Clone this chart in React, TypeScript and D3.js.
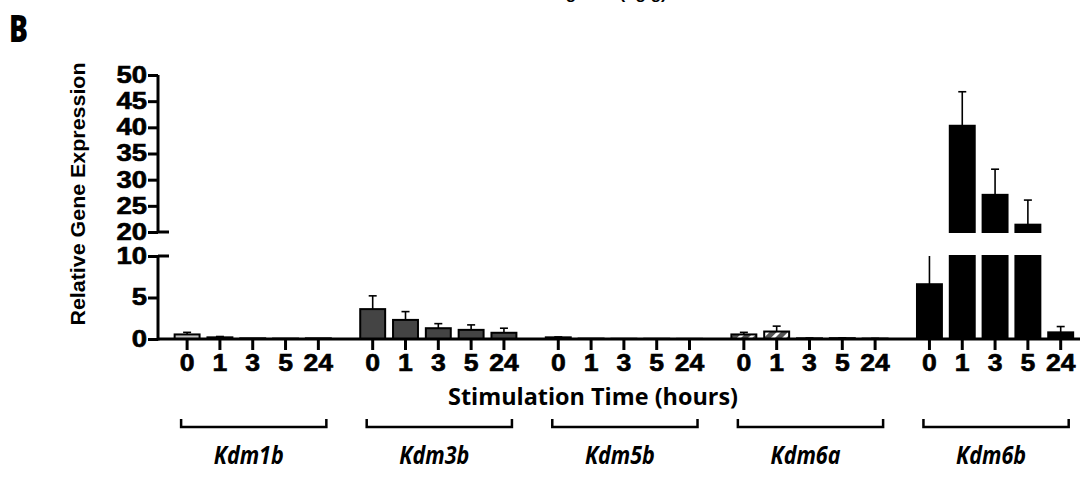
// @ts-nocheck
import React, { useRef, useEffect } from "react";
import * as d3 from "d3";

// genes and time points (hours)
const genes = ["Kdm1b", "Kdm3b", "Kdm5b", "Kdm6a", "Kdm6b"];
const times = ["0", "1", "3", "5", "24"];

// mean relative expression per gene, in the order of `times`
const kdm1bMean = [0.55, 0.2, 0.08, 0.05, 0.08];
const kdm3bMean = [3.6, 2.3, 1.3, 1.1, 0.75];
const kdm5bMean = [0.2, 0.05, 0.03, 0.03, 0.02];
const kdm6aMean = [0.55, 0.9, 0.08, 0.1, 0.05];
const kdm6bMean = [6.6, 40.3, 27.1, 21.4, 0.8];

// error (SEM) per gene
const kdm1bErr = [0.25, 0.1, 0, 0, 0];
const kdm3bErr = [1.6, 1.0, 0.55, 0.6, 0.55];
const kdm5bErr = [0.05, 0, 0, 0, 0];
const kdm6aErr = [0.25, 0.65, 0.04, 0.04, 0.02];
const kdm6bErr = [3.5, 6.5, 4.9, 4.7, 0.7];

const lowTicks = [0, 5, 10];
const highTicks = [20, 25, 30, 35, 40, 45, 50];

const means = [kdm1bMean, kdm3bMean, kdm5bMean, kdm6aMean, kdm6bMean];
const errs = [kdm1bErr, kdm3bErr, kdm5bErr, kdm6aErr, kdm6bErr];
const fills = ["#c4c4c4", "#444444", "#ffffff", "url(#hatch)", "#000000"];

const BrokenBarChart = ({ width = 1092, height = 478 }) => {
  const svgRef = useRef(null);

  useEffect(() => {
    const svg = d3.select(svgRef.current);
    svg.selectAll("*").remove();

    const axisX = 158,
      axisEnd = 1080,
      baseY = 339;

    const gx = d3
      .scaleBand()
      .domain(genes)
      .range([170.7, 1077.1])
      .paddingInner(0.116)
      .paddingOuter(0);

    const tx = d3
      .scaleBand()
      .domain(times)
      .range([0, gx.bandwidth()])
      .paddingInner(0.24)
      .paddingOuter(0.12);

    const yLow = d3.scaleLinear().domain([0, 10]).range([baseY, 256]);
    const yHigh = d3.scaleLinear().domain([20, 50]).range([232, 75]);

    const rows = genes.flatMap((g, gi) =>
      times.map((t, ti) => ({
        gene: g,
        time: t,
        value: means[gi][ti],
        err: errs[gi][ti],
        fill: fills[gi],
      }))
    );

    svg
      .attr("width", width)
      .attr("height", height)
      .attr("viewBox", [0, 0, width, height])
      .style("position", "absolute")
      .style("top", 0)
      .style("left", 0)
      .style("background", "#fff");

    // hatch pattern for Kdm6a
    const pat = svg
      .append("defs")
      .append("pattern")
      .attr("id", "hatch")
      .attr("patternUnits", "userSpaceOnUse")
      .attr("width", 8)
      .attr("height", 8)
      .attr("patternTransform", "rotate(45)");
    pat.append("rect").attr("width", 8).attr("height", 8).attr("fill", "#555");
    pat.append("rect").attr("width", 3).attr("height", 8).attr("fill", "#fff");

    // panel title, cut off at the top edge as in the source figure
    svg
      .append("text")
      .attr("x", 595)
      .attr("y", -1)
      .attr("text-anchor", "middle")
      .attr("font-family", "Liberation Sans, Arial")
      .attr("font-weight", "bold")
      .attr("font-size", 17)
      .text("Kdm genes (ng/g)");

    svg
      .append("text")
      .attr("x", 9)
      .attr("y", 42)
      .attr("font-family", "Open Sans, sans-serif")
      .attr("font-weight", 800)
      .attr("font-size", 37)
      .attr("textLength", 19)
      .attr("lengthAdjust", "spacingAndGlyphs")
      .text("B");

    const xb = (d) => gx(d.gene) + tx(d.time);

    // bars
    const bars = svg.append("g").attr("stroke", "#000").attr("stroke-width", 2);
    rows.forEach((d) => {
      const lowTop = Math.min(d.value, 10);
      bars
        .append("rect")
        .attr("x", xb(d))
        .attr("y", yLow(lowTop))
        .attr("width", tx.bandwidth())
        .attr("height", Math.max(0, yLow(0) - yLow(lowTop)))
        .attr("fill", d.fill);
      if (d.value > 20) {
        bars
          .append("rect")
          .attr("x", xb(d))
          .attr("y", yHigh(d.value))
          .attr("width", tx.bandwidth())
          .attr("height", yHigh(20) - yHigh(d.value))
          .attr("fill", d.fill);
      }
    });

    // error bars (upper only)
    const eb = svg.append("g").attr("stroke", "#000").attr("stroke-width", 1.6);
    rows
      .filter((d) => d.err > 0)
      .forEach((d) => {
        const cx = xb(d) + tx.bandwidth() / 2;
        const top = d.value + d.err;
        const y = d.value > 20 ? yHigh : yLow;
        const clipped = d.value <= 10 && top > 10;
        const yTop = clipped ? yLow(10) : y(top);
        eb.append("line")
          .attr("x1", cx)
          .attr("x2", cx)
          .attr("y1", y(d.value))
          .attr("y2", yTop);
        if (!clipped) {
          eb.append("line")
            .attr("x1", cx - 4)
            .attr("x2", cx + 4)
            .attr("y1", yTop)
            .attr("y2", yTop);
        }
      });

    const tickFont = (g, per) =>
      g
        .selectAll("text")
        .attr("font-family", "Liberation Sans, Arial")
        .attr("font-weight", "bold")
        .attr("font-size", 23)
        .attr("fill", "#000")
        .attr("stroke", "#000")
        .attr("stroke-width", 0.6)
        .attr("textLength", (d) => String(d).length * per)
        .attr("lengthAdjust", "spacingAndGlyphs");

    const styleAxis = (g) => {
      g.selectAll(".domain").remove();
      g.selectAll(".tick line").attr("stroke", "#000").attr("stroke-width", 3);
    };

    // y axis, lower segment
    svg
      .append("g")
      .attr("transform", `translate(${axisX},0)`)
      .call(d3.axisLeft(yLow).tickValues(lowTicks).tickSize(10).tickPadding(1))
      .call(styleAxis)
      .call((g) => tickFont(g, 15.3));

    // y axis, upper segment
    svg
      .append("g")
      .attr("transform", `translate(${axisX},0)`)
      .call(d3.axisLeft(yHigh).tickValues(highTicks).tickSize(10).tickPadding(1))
      .call(styleAxis)
      .call((g) => tickFont(g, 15.3));

    const lines = svg
      .append("g")
      .attr("stroke", "#000")
      .attr("stroke-width", 3)
      .attr("fill", "none");
    lines
      .append("line")
      .attr("x1", axisX)
      .attr("x2", axisX)
      .attr("y1", yHigh(50))
      .attr("y2", yHigh(20));
    lines
      .append("line")
      .attr("x1", axisX)
      .attr("x2", axisX)
      .attr("y1", yLow(10))
      .attr("y2", yLow(0) + 1.5);
    // break caps
    [yHigh(20), yLow(10)].forEach((y) =>
      lines
        .append("line")
        .attr("x1", axisX)
        .attr("x2", axisX + 11)
        .attr("y1", y)
        .attr("y2", y)
    );
    lines
      .append("line")
      .attr("x1", axisX)
      .attr("x2", axisEnd)
      .attr("y1", baseY)
      .attr("y2", baseY);

    // x ticks per gene group
    genes.forEach((g) => {
      svg
        .append("g")
        .attr("transform", `translate(${gx(g)},${baseY})`)
        .call(d3.axisBottom(tx).tickSize(11).tickPadding(5))
        .call(styleAxis)
        .call((s) => tickFont(s, 14.8));
    });

    svg
      .append("text")
      .attr("x", 593)
      .attr("y", 405)
      .attr("text-anchor", "middle")
      .attr("font-family", "Open Sans, sans-serif")
      .attr("font-weight", "bold")
      .attr("font-size", 24)
      .attr("textLength", 290)
      .attr("lengthAdjust", "spacingAndGlyphs")
      .text("Stimulation Time (hours)");

    // gene brackets
    const br = svg
      .append("g")
      .attr("stroke", "#000")
      .attr("stroke-width", 2.5)
      .attr("fill", "none");
    genes.forEach((g) => {
      const x0 = gx(g) + tx(times[0]) + tx.bandwidth() / 2 - 6;
      const x1 = gx(g) + tx(times[times.length - 1]) + tx.bandwidth() / 2 + 8;
      br.append("path").attr("d", `M${x0},419V427H${x1}V419`);
      svg
        .append("text")
        .attr("x", gx(g) + gx.bandwidth() / 2 - 4)
        .attr("y", 464)
        .attr("text-anchor", "middle")
        .attr("font-family", "Open Sans, sans-serif")
        .attr("font-weight", "bold")
        .attr("font-style", "italic")
        .attr("font-size", 25)
        .attr("textLength", 70)
        .attr("lengthAdjust", "spacingAndGlyphs")
        .text(g);
    });

    // y axis title
    svg
      .append("text")
      .attr("transform", "translate(85,194) rotate(-90)")
      .attr("text-anchor", "middle")
      .attr("font-family", "Liberation Sans, Arial")
      .attr("font-weight", "bold")
      .attr("font-size", 21)
      .attr("textLength", 263)
      .attr("lengthAdjust", "spacingAndGlyphs")
      .text("Relative Gene Expression");
  }, [width, height]);

  return <svg ref={svgRef}></svg>;
};

export default function App() {
  return <BrokenBarChart />;
}
